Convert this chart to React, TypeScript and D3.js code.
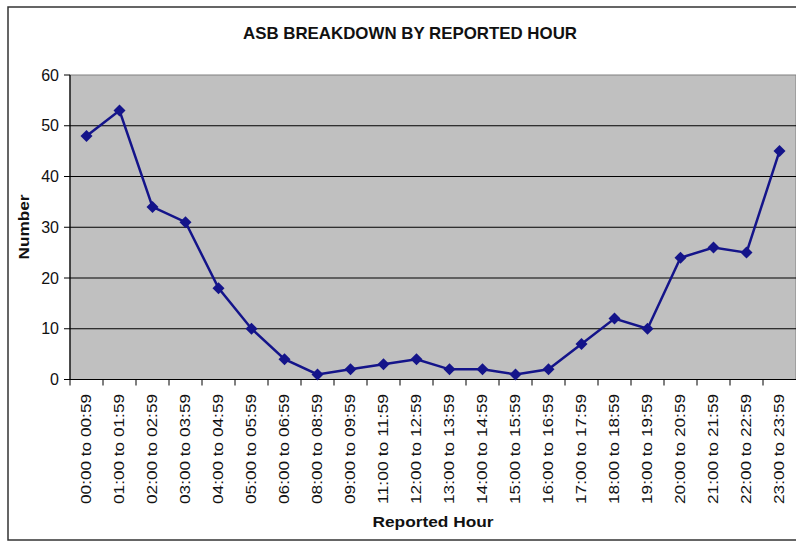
import React from "react";
import * as d3 from "d3";

const categories = [
  "00:00 to 00:59", "01:00 to 01:59", "02:00 to 02:59", "03:00 to 03:59",
  "04:00 to 04:59", "05:00 to 05:59", "06:00 to 06:59", "08:00 to 08:59",
  "09:00 to 09:59", "11:00 to 11:59", "12:00 to 12:59", "13:00 to 13:59",
  "14:00 to 14:59", "15:00 to 15:59", "16:00 to 16:59", "17:00 to 17:59",
  "18:00 to 18:59", "19:00 to 19:59", "20:00 to 20:59", "21:00 to 21:59",
  "22:00 to 22:59", "23:00 to 23:59",
];
const values = [48, 53, 34, 31, 18, 10, 4, 1, 2, 3, 4, 2, 2, 1, 2, 7, 12, 10, 24, 26, 25, 45];
const yTicks = [0, 10, 20, 30, 40, 50, 60];

const W = 796;
const H = 544;
const plotLeft = 70;
const plotRight = 796;
const plotTop = 75;
const plotBottom = 379.5;

export default function App() {
  const x = d3.scaleBand<string>().domain(categories).range([plotLeft, plotRight]);
  const y = d3.scaleLinear().domain([0, 60]).range([plotBottom, plotTop]);
  const cx = (c: string) => (x(c) as number) + x.bandwidth() / 2;
  const pts = categories.map((c, i) => [cx(c), y(values[i])] as [number, number]);
  const line = d3.line()(pts) as string;
  const diamond = d3.symbol().type(d3.symbolSquare).size(72)() as string;
  const navy = "#14148a";

  return (
    <svg width={W} height={H} style={{ position: "absolute", left: 0, top: 0, background: "#fff" }}
      fontFamily="'Liberation Sans', Arial, sans-serif">
      <rect x={8} y={7} width={800} height={533} fill="#fff" stroke="#333" strokeWidth={1.5} />
      <text x={410} y={39} textAnchor="middle" fontSize={17} fontWeight="bold"
        fontFamily="'Liberation Sans Narrow', 'Arial Narrow', 'Liberation Sans', sans-serif"
        textLength={334} lengthAdjust="spacingAndGlyphs" fill="#111">
        ASB BREAKDOWN BY REPORTED HOUR
      </text>
      <rect x={plotLeft} y={plotTop} width={plotRight - plotLeft} height={plotBottom - plotTop}
        fill="#c0c0c0" stroke="#808080" strokeWidth={1} />
      {yTicks.filter((t) => t > 0 && t < 60).map((t) => (
        <line key={"g" + t} x1={plotLeft} x2={plotRight} y1={y(t)} y2={y(t)} stroke="#000" strokeWidth={1} />
      ))}
      <line x1={plotLeft} x2={plotLeft} y1={plotTop} y2={plotBottom} stroke="#000" strokeWidth={1.2} />
      {yTicks.map((t) => (
        <g key={"yt" + t}>
          <line x1={plotLeft - 6} x2={plotLeft} y1={y(t)} y2={y(t)} stroke="#000" strokeWidth={1} />
          <text x={59} y={y(t)} dy="0.35em" textAnchor="end" fontSize={16} fill="#111">{t}</text>
        </g>
      ))}
      <line x1={plotLeft} x2={plotRight} y1={plotBottom} y2={plotBottom} stroke="#000" strokeWidth={1.2} />
      {categories.map((c) => (
        <line key={"xt" + c} x1={x(c) as number} x2={x(c) as number} y1={plotBottom} y2={plotBottom + 6}
          stroke="#000" strokeWidth={1} />
      ))}
      {categories.map((c) => (
        <text key={"xl" + c} transform={`translate(${cx(c)},${394}) rotate(-90)`} dy="0.35em"
          textAnchor="end" fontSize={14} textLength={110} lengthAdjust="spacingAndGlyphs" fill="#111">{c}</text>
      ))}
      <path d={line} fill="none" stroke={navy} strokeWidth={2.5} />
      {pts.map((p, i) => (
        <path key={"m" + i} d={diamond} transform={`translate(${p[0]},${p[1]}) rotate(45)`} fill={navy} />
      ))}
      <text transform={`translate(29,227) rotate(-90)`} textAnchor="middle" fontSize={15} fontWeight="bold"
        textLength={65} lengthAdjust="spacingAndGlyphs" fill="#111">
        Number
      </text>
      <text x={433} y={527} textAnchor="middle" fontSize={15} fontWeight="bold"
        textLength={121} lengthAdjust="spacingAndGlyphs" fill="#111">
        Reported Hour
      </text>
    </svg>
  );
}
